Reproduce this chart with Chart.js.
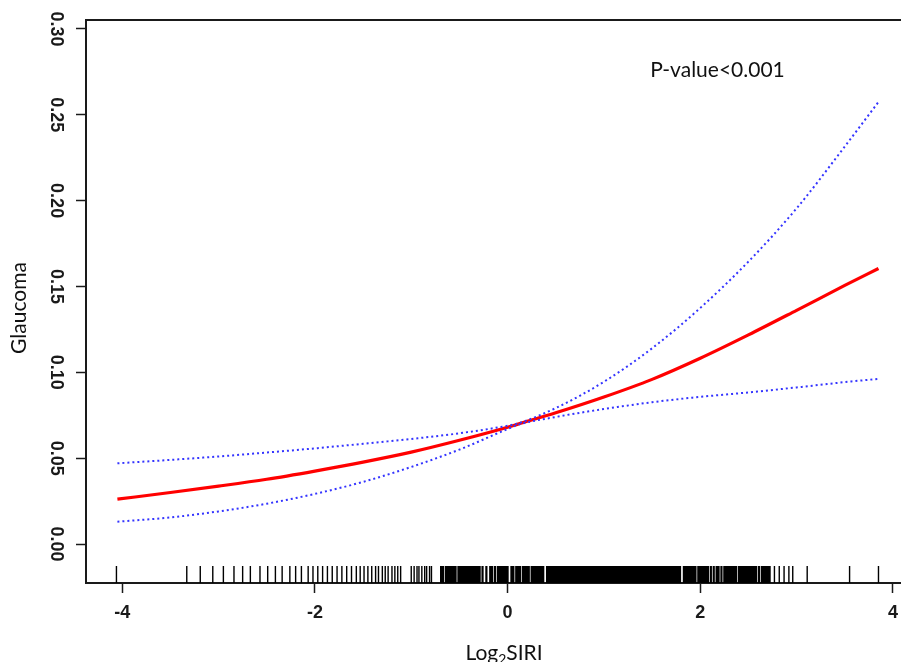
<!DOCTYPE html>
<html>
<head>
<meta charset="utf-8">
<script src="https://cdn.jsdelivr.net/npm/chart.js@4.4.1/dist/chart.umd.min.js"></script>
<style>
    html, body { margin: 0; padding: 0; background: #fff; overflow: hidden; }
    #wrap { width: 907px; height: 662px; }
</style>
</head>
<body>
<div id="wrap"><canvas id="chart" width="907" height="662"></canvas></div>
<script>
const xGrid = [-4.05, -3.5, -3.0, -2.5, -2.0, -1.5, -1.0, -0.5, 0.0, 0.1, 0.5, 1.0, 1.5, 2.0, 2.5, 3.0, 3.5, 3.85];
const fitValues = [0.0261, 0.0300, 0.0337, 0.0377, 0.0425, 0.0477, 0.0535, 0.0604, 0.0680, 0.0697, 0.0764, 0.0856, 0.0959, 0.1082, 0.1218, 0.1361, 0.1506, 0.1605];
const upperCI = [0.0470, 0.0490, 0.0510, 0.0533, 0.0557, 0.0584, 0.0612, 0.0645, 0.0689, 0.0701, 0.0792, 0.0945, 0.1140, 0.1375, 0.1645, 0.1955, 0.2315, 0.2575];
const lowerCI = [0.0130, 0.0155, 0.0190, 0.0235, 0.0292, 0.0362, 0.0449, 0.0550, 0.0670, 0.0693, 0.0740, 0.0786, 0.0826, 0.0857, 0.0883, 0.0912, 0.0943, 0.0962];

// rug of observed Log2SIRI values (sparse part and the dense block)
const rugSparse = [
    -4.06, -3.33, -3.19, -3.06, -2.95, -2.84, -2.75, -2.67, -2.57, -2.49, -2.41, -2.34, -2.26,
    -2.20, -2.14, -2.07, -2.02, -1.97, -1.92, -1.87, -1.82, -1.77, -1.72, -1.67, -1.62, -1.57,
    -1.53, -1.49, -1.45, -1.41, -1.37, -1.34, -1.30, -1.27, -1.24, -1.20, -1.17, -1.14, -1.11,
    -1.00, -0.97, -0.94, -0.92, -0.89, -0.86, -0.84, -0.81, -0.79,
    2.77, 2.82, 2.87, 2.92, 2.96, 3.11, 3.55, 3.85
];
const rugDense = [
    -0.69, -0.67, -0.64, -0.62, -0.60, -0.58, -0.56, -0.54, -0.51, -0.49, -0.47, -0.45, -0.43,
    -0.41, -0.39, -0.37, -0.35,
    -0.33, -0.31, -0.29, -0.26, -0.22, -0.18, -0.16, -0.13, -0.10, -0.08, -0.06, -0.04, -0.02,
    0.00, 0.04, 0.06, 0.09, 0.11, 0.13, 0.16, 0.18, 0.20, 0.22, 0.25, 0.27, 0.29, 0.31, 0.33,
    0.35, 0.37, 0.41, 0.43, 0.45, 0.47, 0.49, 0.51, 0.53, 0.55, 0.57, 0.59,
    0.61, 0.63, 0.65, 0.67, 0.69, 0.71, 0.73, 0.75, 0.77, 0.79,
    0.81, 0.83, 0.85, 0.87, 0.89, 0.91, 0.93, 0.95, 0.97, 0.99,
    1.01, 1.03, 1.05, 1.07, 1.09, 1.11, 1.13, 1.15, 1.17, 1.19,
    1.21, 1.23, 1.25, 1.27, 1.29, 1.31, 1.33, 1.35, 1.37, 1.39,
    1.41, 1.43, 1.45, 1.47, 1.49, 1.51, 1.53, 1.55, 1.57, 1.59,
    1.61, 1.63, 1.65, 1.67, 1.69, 1.71, 1.73, 1.75, 1.77, 1.79,
    1.83, 1.85, 1.87, 1.89, 1.91, 1.93, 1.95, 1.98, 2.00, 2.02, 2.04, 2.06, 2.08,
    2.11, 2.14, 2.17, 2.19, 2.22, 2.25, 2.27, 2.29, 2.31, 2.33, 2.35, 2.37, 2.40, 2.42, 2.44,
    2.46, 2.48, 2.50, 2.52, 2.54, 2.56, 2.58, 2.61, 2.64, 2.66, 2.68, 2.70, 2.72
];

const xTitleParts = ["Log", "2", "SIRI"];
const yTitle = "Glaucoma";
const pLabel = "P-value<0.001";

const INK = "#1a1a1a";
const BLUE = "#3434ff";
const toXY = (ys) => xGrid.map((x, i) => ({ x, y: ys[i] }));

const overlay = {
    id: "overlay",
    afterDatasetsDraw(chart) {
        const { ctx, chartArea, scales: { x, y } } = chart;
        const rugLen = (chartArea.bottom - chartArea.top) * 0.03;
        const drawRug = (vals, w) => {
            ctx.save();
            ctx.strokeStyle = "#000";
            ctx.lineWidth = w;
            ctx.beginPath();
            vals.forEach((v) => {
                const px = x.getPixelForValue(v);
                ctx.moveTo(px, chartArea.bottom);
                ctx.lineTo(px, chartArea.bottom - rugLen);
            });
            ctx.stroke();
            ctx.restore();
        };
        drawRug(rugSparse, 1.4);
        drawRug(rugDense, 2.2);

        ctx.save();
        ctx.fillStyle = "#111";
        ctx.font = "21px Lato";
        ctx.textBaseline = "middle";
        ctx.fillText(pLabel, x.getPixelForValue(1.48), y.getPixelForValue(0.276));
        ctx.restore();
    },
    afterDraw(chart) {
        const { ctx } = chart;
        ctx.save();
        ctx.fillStyle = "#111";
        ctx.textBaseline = "alphabetic";

        // x title with subscript 2
        const big = "21px Lato", small = "14px Lato";
        ctx.font = big;
        const w1 = ctx.measureText(xTitleParts[0]).width;
        const w3 = ctx.measureText(xTitleParts[2]).width;
        ctx.font = small;
        const w2 = ctx.measureText(xTitleParts[1]).width;
        const sx = 504 - (w1 + w2 + w3) / 2;
        ctx.font = big;
        ctx.fillText(xTitleParts[0], sx, 660);
        ctx.font = small;
        ctx.fillText(xTitleParts[1], sx + w1, 664);
        ctx.font = big;
        ctx.fillText(xTitleParts[2], sx + w1 + w2, 660);

        // y title
        ctx.translate(26, 308);
        ctx.rotate(-Math.PI / 2);
        ctx.textAlign = "center";
        ctx.fillText(yTitle, 0, 0);
        ctx.restore();
    }
};

const tickFont = { family: "Liberation Sans", size: 18, weight: "bold" };

new Chart(document.getElementById("chart"), {
    type: "line",
    data: {
        datasets: [
            { label: "Upper CI", data: toXY(upperCI), borderColor: BLUE, borderWidth: 2, borderDash: [2, 3], pointRadius: 0, cubicInterpolationMode: "monotone", fill: false },
            { label: "Lower CI", data: toXY(lowerCI), borderColor: BLUE, borderWidth: 2, borderDash: [2, 3], pointRadius: 0, cubicInterpolationMode: "monotone", fill: false },
            { label: "Fit", data: toXY(fitValues), borderColor: "#ff0000", borderWidth: 3.2, pointRadius: 0, cubicInterpolationMode: "monotone", fill: false }
        ]
    },
    options: {
        responsive: false,
        animation: false,
        layout: { padding: { top: 20, left: 0, right: 0, bottom: 0 } },
        plugins: { legend: { display: false }, tooltip: { enabled: false } },
        scales: {
            x: {
                type: "linear", position: "bottom", min: -4.376, max: 4.074,
                afterFit: (s) => { s.height = 79; },
                ticks: { stepSize: 2, includeBounds: false, padding: 9, maxRotation: 0, color: INK, font: tickFont },
                grid: { drawOnChartArea: false, drawTicks: true, tickLength: 10, tickWidth: 1.5, tickColor: INK },
                border: { display: true, color: INK, width: 2 }
            },
            topEdge: {
                axis: "x", type: "linear", position: "top", min: -4.376, max: 4.074,
                afterFit: (s) => { s.height = 0; },
                ticks: { display: false },
                grid: { display: false, drawTicks: false },
                border: { display: true, color: INK, width: 2 }
            },
            y: {
                type: "linear", position: "left", min: -0.0227, max: 0.3052,
                afterFit: (s) => { s.width = 86; },
                ticks: {
                    stepSize: 0.05, includeBounds: false, minRotation: -90, maxRotation: -90,
                    crossAlign: "center", padding: 3, color: INK, font: tickFont,
                    callback: (v) => v.toFixed(2)
                },
                grid: { drawOnChartArea: false, drawTicks: true, tickLength: 10, tickWidth: 1.5, tickColor: INK },
                border: { display: true, color: INK, width: 2 }
            }
        }
    },
    plugins: [overlay]
});
</script>
</body>
</html>
